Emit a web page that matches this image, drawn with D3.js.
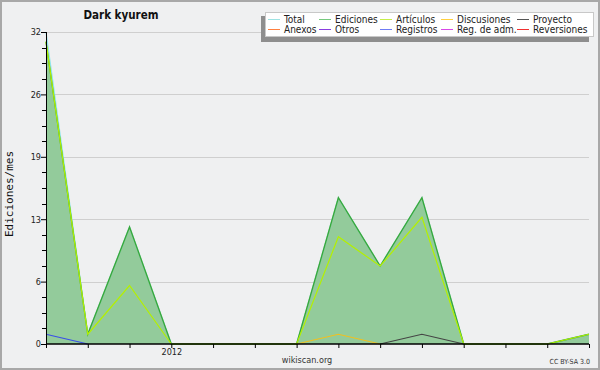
<!DOCTYPE html>
<html>
<head>
<meta charset="utf-8">
<script src="https://cdn.jsdelivr.net/npm/d3@7"></script>
<style>
  body { margin: 0; background: #fff; }
  svg { display: block; font-family: "DejaVu Sans", sans-serif; }
</style>
</head>
<body>
<div id="wrapper"></div>
<script>
// months shown on the x axis (one tick per month)
const meses = ["2011-10", "2011-11", "2011-12", "2012-01", "2012-02", "2012-03", "2012-04",
    "2012-05", "2012-06", "2012-07", "2012-08", "2012-09", "2012-10", "2012-11"];

const total = [32, 1, 12, 0, 0, 0, 0, 15, 8, 15, 0, 0, 0, 1];
const ediciones = [31, 1, 12, 0, 0, 0, 0, 15, 8, 15, 0, 0, 0, 1];
const articulos = [31, 1, 6, 0, 0, 0, 0, 11, 8, 13, 0, 0, 0, 1];
const discusiones = [null, null, null, null, null, null, 0, 1, 0, null, null, null, null, null];
const proyecto = [null, null, null, null, null, null, null, null, 0, 1, 0, null, null, null];
const registros = [1, 0, null, null, null, null, null, null, null, null, null, null, null, null];

const yMax = 32;
const yTicks = [0, 6.4, 12.8, 19.2, 25.6, 32];

const legendNames = ["Total", "Ediciones", "Artículos", "Discusiones", "Proyecto",
    "Anexos", "Otros", "Registros", "Reg. de adm.", "Reversiones"];
const legendColors = ["#9ee3e3", "#76c97e", "#c6ee4a", "#ffd040", "#555555",
    "#ff8040", "#8a3ee0", "#6f7cf5", "#d848e8", "#f03030"];

const condensed = "'DejaVu Sans Condensed', 'DejaVu Sans', sans-serif";

const dimensions = {
    width: 600,
    height: 370,
    margin: { top: 32, right: 11, bottom: 26, left: 46 },
}
dimensions.boundedWidth = dimensions.width - dimensions.margin.left - dimensions.margin.right
dimensions.boundedHeight = dimensions.height - dimensions.margin.top - dimensions.margin.bottom

const wrapper = d3.select("#wrapper")
    .append("svg")
    .attr("width", dimensions.width)
    .attr("height", dimensions.height);

// background + frame
wrapper.append("rect")
    .attr("x", 1).attr("y", 1)
    .attr("width", dimensions.width - 2).attr("height", dimensions.height - 2)
    .attr("fill", "#eff0f1")
    .attr("stroke", "#a8a8a8")
    .attr("stroke-width", 2);

const bounds = wrapper.append("g")
    .attr("transform", `translate(${dimensions.margin.left},${dimensions.margin.top})`);

const xScaler = d3.scalePoint()
    .domain(meses)
    .range([0, dimensions.boundedWidth]);

const yScaler = d3.scaleLinear()
    .domain([0, yMax])
    .range([dimensions.boundedHeight, 0]);

// grid
bounds.append("g")
    .selectAll("line")
    .data(yTicks.slice(1))
    .enter()
    .append("line")
    .attr("x1", 0)
    .attr("x2", dimensions.boundedWidth)
    .attr("y1", d => Math.round(yScaler(d)) + 0.5)
    .attr("y2", d => Math.round(yScaler(d)) + 0.5)
    .attr("stroke", "#cfcfcf");

// filled area for ediciones
const areaGen = d3.area()
    .x((d, i) => xScaler(meses[i]))
    .y0(yScaler(0))
    .y1(d => yScaler(d));

bounds.append("path")
    .attr("d", areaGen(ediciones))
    .attr("fill", "#93cb9b");

const lineGen = d3.line()
    .defined(d => d !== null)
    .x((d, i) => xScaler(meses[i]))
    .y(d => yScaler(d));

const series = [
    { values: total, color: "#8fe6ec", width: 1.2 },
    { values: ediciones, color: "#3aa83a", width: 1.4 },
    { values: articulos, color: "#b4f000", width: 1.2 },
    { values: discusiones, color: "#f0c020", width: 1.2 },
    { values: proyecto, color: "#444444", width: 1.2 },
    { values: registros, color: "#3a4ee8", width: 1.2 },
];

bounds.append("g")
    .selectAll("path")
    .data(series)
    .enter()
    .append("path")
    .attr("d", d => lineGen(d.values))
    .attr("fill", "none")
    .attr("stroke", d => d.color)
    .attr("stroke-width", d => d.width);

// y axis
const yAxisGen = d3.axisLeft(yScaler)
    .tickValues(yTicks)
    .tickSize(5)
    .tickFormat(d => Math.round(d));
const yAxis = bounds.append("g")
    .call(yAxisGen);
yAxis.select(".domain").attr("stroke", "#000").attr("d", `M0.5,0V${dimensions.boundedHeight}`);
yAxis.selectAll("text").attr("font-size", "9px").attr("fill", "#222").attr("font-family", condensed).attr("x", -5);

const minorTicks = d3.range(0, yMax + 0.01, 1.6).filter(v => !yTicks.some(t => Math.abs(t - v) < 0.01));
bounds.append("g")
    .selectAll("line")
    .data(minorTicks)
    .enter()
    .append("line")
    .attr("x1", -4)
    .attr("x2", 0)
    .attr("y1", d => Math.round(yScaler(d)) + 0.5)
    .attr("y2", d => Math.round(yScaler(d)) + 0.5)
    .attr("stroke", "#000");

// x axis
const xAxisGen = d3.axisBottom(xScaler)
    .tickSize(4)
    .tickFormat(d => d.endsWith("-01") ? d.slice(0, 4) : "");
const xAxis = bounds.append("g")
    .call(xAxisGen)
    .attr("transform", `translate(0,${dimensions.boundedHeight})`);
xAxis.select(".domain").attr("stroke", "#000").attr("stroke-width", 1.5).attr("d", `M0,0H${dimensions.boundedWidth}`);
xAxis.selectAll("text").attr("font-size", "9px").attr("fill", "#222").attr("font-family", condensed).attr("y", 5);

// labels
wrapper.append("text")
    .attr("x", 121)
    .attr("y", 19)
    .attr("text-anchor", "middle")
    .attr("font-family", condensed)
    .attr("font-size", "11.5px")
    .attr("font-weight", "bold")
    .attr("fill", "#111")
    .text("Dark kyurem");

wrapper.append("text")
    .attr("transform", "translate(13,194) rotate(-90)")
    .attr("text-anchor", "middle")
    .attr("font-family", "DejaVu Sans Mono")
    .attr("font-size", "11px")
    .attr("fill", "#111")
    .text("Ediciones/mes");

wrapper.append("text")
    .attr("x", 307)
    .attr("y", 363)
    .attr("text-anchor", "middle")
    .attr("font-family", condensed)
    .attr("font-size", "9px")
    .attr("fill", "#333")
    .text("wikiscan.org");

wrapper.append("text")
    .attr("x", 590)
    .attr("y", 364)
    .attr("text-anchor", "end")
    .attr("font-family", condensed)
    .attr("font-size", "7px")
    .attr("fill", "#333")
    .text("CC BY-SA 3.0");

// legend
const legend = wrapper.append("g");
legend.append("rect")
    .attr("x", 261).attr("y", 16)
    .attr("width", 328).attr("height", 26)
    .attr("fill", "#8e8e8e");
legend.append("rect")
    .attr("x", 265.5).attr("y", 12.5)
    .attr("width", 328).attr("height", 24)
    .attr("fill", "#fff")
    .attr("stroke", "#c8c8c8");

const colX = [268, 319, 380, 441, 517];
const legendItems = legend.selectAll("g.item")
    .data(legendNames)
    .enter()
    .append("g")
    .attr("transform", (d, i) => `translate(${colX[i % 5]},${i < 5 ? 19 : 29})`);
legendItems.append("line")
    .attr("x1", 0).attr("x2", 12)
    .attr("y1", 0.5).attr("y2", 0.5)
    .attr("stroke", (d, i) => legendColors[i]);
legendItems.append("text")
    .attr("x", 16)
    .attr("y", 3.5)
    .attr("font-family", condensed)
    .attr("font-size", "10px")
    .attr("fill", "#222")
    .text(d => d);
</script>
</body>
</html>
